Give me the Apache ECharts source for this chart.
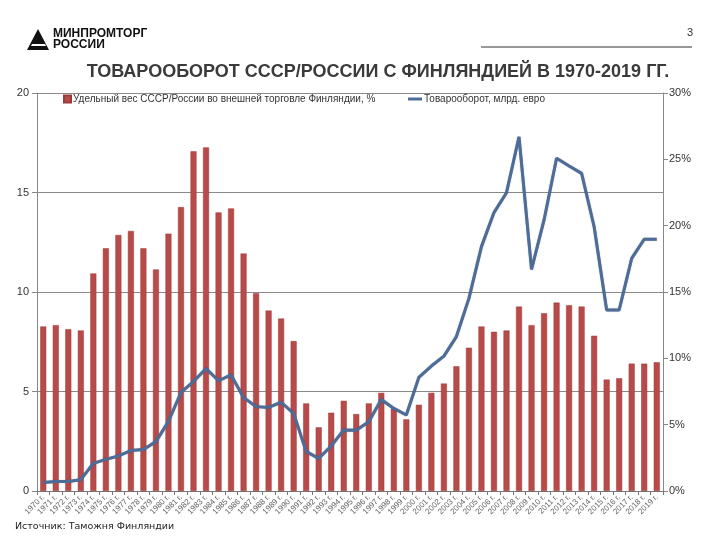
<!DOCTYPE html>
<html><head><meta charset="utf-8">
<script src="https://cdn.jsdelivr.net/npm/echarts@6/dist/echarts.min.js"></script>
<style>html,body{margin:0;padding:0;background:#fff}#c{width:720px;height:540px}</style>
</head><body><div id="c"></div>
<script>
const years = [];
for (let y = 1970; y <= 2019; y++) years.push(y + ' г.');
// Share of USSR/Russia in Finland's foreign trade, %
const sharePct = [12.4,12.5,12.2,12.1,16.4,18.3,19.3,19.6,18.3,16.7,
  19.4,21.4,25.6,25.9,21.0,21.3,17.9,14.9,13.6,13.0,
  11.3,6.6,4.8,5.9,6.8,5.8,6.6,7.4,6.2,5.4,
  6.5,7.4,8.1,9.4,10.8,12.4,12.0,12.1,13.9,12.5,
  13.4,14.2,14.0,13.9,11.7,8.4,8.5,9.6,9.6,9.7];
// Trade turnover, bn euro
const turnover = [0.43,0.48,0.48,0.57,1.39,1.59,1.76,2.03,2.09,2.48,
  3.5,4.95,5.5,6.15,5.54,5.83,4.7,4.24,4.2,4.46,
  3.9,1.98,1.64,2.26,3.07,3.05,3.48,4.6,4.15,3.82,
  5.71,6.28,6.78,7.76,9.68,12.28,13.99,14.99,17.8,11.14,
  13.62,16.72,16.33,15.96,13.28,9.1,9.1,11.69,12.65,12.65];
const leftTicks = [0,5,10,15,20];
const rightTicks = [0,5,10,15,20,25,30];
const barName = 'Удельный вес СССР/России во внешней торговле Финляндии, %';
const lineName = 'Товарооборот, млрд. евро';

const chart = echarts.init(document.getElementById('c'));
const F = 'Liberation Sans, Arial, sans-serif';
chart.setOption({
  animation: false,
  textStyle: {fontFamily: F},
  title: {
    text: 'ТОВАРООБОРОТ СССР/РОССИИ С ФИНЛЯНДИЕЙ В 1970-2019 ГГ.',
    left: 373, textAlign: 'center', top: 58,
    textStyle: {fontSize: 18, fontWeight: 'bold', color: '#3a3a3a', fontFamily: F}
  },
  legend: [
    {data: [{name: barName, icon: 'rect'}], left: 58, top: 89, itemWidth: 7, itemHeight: 7, itemGap: 4,
     textStyle: {fontSize: 10, color: '#333', padding: [0,0,0,-3]}},
    {data: [{name: lineName, icon: 'rect'}], left: 403, top: 89, itemWidth: 14, itemHeight: 3,
     textStyle: {fontSize: 10, color: '#333', padding: [0,0,0,-3]}}
  ],
  grid: {left: 37, right: 57, top: 93, bottom: 49, containLabel: false},
  xAxis: {
    type: 'category', data: years,
    axisLine: {lineStyle: {color: '#777'}},
    axisTick: {show: true, length: 4, lineStyle: {color: '#777'}},
    axisLabel: {rotate: 45, fontSize: 8, color: '#666', interval: 0, margin: 5}
  },
  yAxis: [
    {type: 'value', min: leftTicks[0], max: leftTicks[leftTicks.length-1], interval: 5,
     axisLine: {show: true, lineStyle: {color: '#888'}},
     axisTick: {show: true, length: 5, lineStyle: {color: '#888'}},
     axisLabel: {fontSize: 11, color: '#333', margin: 8},
     splitLine: {show: true, lineStyle: {color: '#8a8a8a', width: 1}}},
    {type: 'value', min: rightTicks[0], max: rightTicks[rightTicks.length-1], interval: 5, position: 'right',
     axisLine: {show: true, lineStyle: {color: '#888'}},
     axisTick: {show: true, length: 5, lineStyle: {color: '#888'}},
     axisLabel: {fontSize: 11, color: '#333', margin: 6, formatter: '{value}%'},
     splitLine: {show: false}}
  ],
  series: [
    {name: barName, type: 'bar', yAxisIndex: 1, data: sharePct, barWidth: 6,
     itemStyle: {color: '#b84b49', borderColor: '#9a3a38', borderWidth: 0.5}},
    {name: lineName, type: 'line', yAxisIndex: 0, data: turnover, symbol: 'none',
     lineStyle: {color: '#4d6c98', width: 3, shadowColor: 'rgba(40,50,80,0.5)', shadowBlur: 1},
     itemStyle: {color: '#4d6c98'}}
  ],
  graphic: [
    {type: 'polygon', shape: {points: [[38,29],[27,50],[49,50]]}, style: {fill: '#111'}},
    {type: 'polygon', shape: {points: [[32,44],[45,44],[46,46],[31,46]]}, style: {fill: '#fff'}},
    {type: 'text', left: 53, top: 28, style: {text: 'МИНПРОМТОРГ', fontSize: 12, fontWeight: 'bold', fill: '#111', fontFamily: F}},
    {type: 'text', left: 53, top: 39, style: {text: 'РОССИИ', fontSize: 12, fontWeight: 'bold', fill: '#111', fontFamily: F}},
    {type: 'text', left: 687, top: 27, style: {text: '3', fontSize: 11, fill: '#333', fontFamily: F}},
    {type: 'line', shape: {x1: 481, y1: 47, x2: 692, y2: 47}, style: {stroke: '#333', lineWidth: 1}},
    {type: 'text', left: 15, top: 522, style: {text: 'Источник: Таможня Финляндии', fontSize: 9.5, fill: '#222', fontFamily: 'DejaVu Sans'}}
  ]
});
</script></body></html>
